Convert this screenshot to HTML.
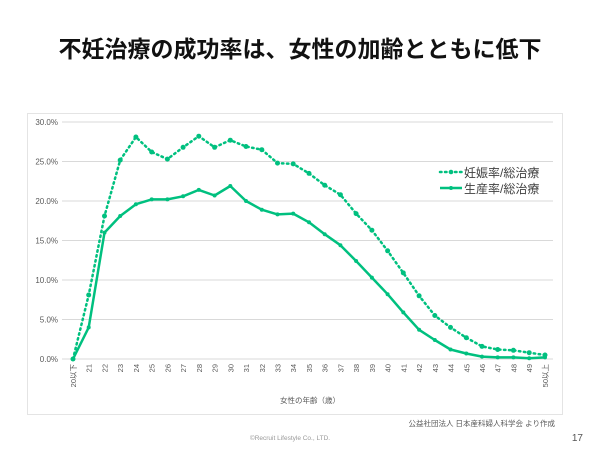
<!DOCTYPE html>
<html><head><meta charset="utf-8"><style>
body{margin:0;width:600px;height:450px;background:#fff;overflow:hidden;font-family:"Liberation Sans","Noto Sans CJK JP",sans-serif;}
</style></head><body>
<svg width="600" height="450" xmlns="http://www.w3.org/2000/svg" font-family="Liberation Sans, Noto Sans CJK JP, sans-serif">
<text x="300" y="57" text-anchor="middle" font-size="23" font-weight="bold" fill="#111" font-family="Noto Sans CJK JP, sans-serif">不妊治療の成功率は、女性の加齢とともに低下</text>
<rect x="27.5" y="113.5" width="535" height="301" fill="none" stroke="#e4e4e4"/>
<g stroke="#d9d9d9" stroke-width="1">
<line x1="62" x2="553" y1="122" y2="122"/><line x1="62" x2="553" y1="161.5" y2="161.5"/><line x1="62" x2="553" y1="201" y2="201"/><line x1="62" x2="553" y1="240.5" y2="240.5"/><line x1="62" x2="553" y1="280" y2="280"/><line x1="62" x2="553" y1="319.5" y2="319.5"/><line x1="62" x2="553" y1="359" y2="359"/>
</g>
<g font-size="8" fill="#595959" text-anchor="end">
<text x="58" y="125">30.0%</text><text x="58" y="164.5">25.0%</text><text x="58" y="204">20.0%</text><text x="58" y="243.5">15.0%</text><text x="58" y="283">10.0%</text><text x="58" y="322.5">5.0%</text><text x="58" y="362">0.0%</text>
</g>
<polyline fill="none" stroke="#00c07f" stroke-width="2.5" stroke-dasharray="1.5 3.5" stroke-linecap="round" points="73,359 88.7,295 104.5,216 120.2,160.1 135.9,137 151.7,152 167.4,159.1 183.1,147.3 198.8,136.2 214.6,147.3 230.3,140.2 246,146.5 261.8,149.7 277.5,163.1 293.2,163.9 309,173.4 324.7,185.2 340.4,194.7 356.1,213.6 371.9,230.2 387.6,250.8 403.3,272.9 419.1,295.8 434.8,315.5 450.5,327.4 466.3,337.7 482,346.4 497.7,349.5 513.4,350.3 529.2,352.7 545,355"/>
<polyline fill="none" stroke="#00c07f" stroke-width="2.5" stroke-linejoin="round" points="73,359 88.7,327.4 104.5,232.6 120.2,216 135.9,204.2 151.7,199.4 167.4,199.4 183.1,196.3 198.8,189.9 214.6,195.5 230.3,186 246,201 261.8,209.7 277.5,214.4 293.2,213.6 309,222.3 324.7,234.2 340.4,245.2 356.1,261 371.9,277.6 387.6,294.2 403.3,312.4 419.1,329.8 434.8,340 450.5,349.5 466.3,353.5 482,356.6 497.7,357.4 513.4,357.4 529.2,358.2 545,357.4"/>
<line x1="440" x2="462" y1="172" y2="172" stroke="#00c07f" stroke-width="2.5" stroke-dasharray="1.5 3.5" stroke-linecap="round"/>
<circle cx="451" cy="172" r="2.3" fill="#00c07f"/>
<line x1="440" x2="462" y1="188" y2="188" stroke="#00c07f" stroke-width="2.5"/>
<circle cx="451" cy="188" r="2" fill="#00c07f"/>
<text x="464" y="177" font-size="12" fill="#404040">妊娠率/総治療</text>
<text x="464" y="193" font-size="12" fill="#404040">生産率/総治療</text>
<text x="310" y="403" font-size="7.5" fill="#595959" text-anchor="middle">女性の年齢（歳）</text>
<text x="555" y="426" font-size="7.5" fill="#595959" text-anchor="end">公益社団法人 日本産科婦人科学会 より作成</text>
<text x="290" y="440" font-size="6.5" fill="#999" text-anchor="middle">©Recruit Lifestyle Co., LTD.</text>
<text x="583" y="441" font-size="10" fill="#555" text-anchor="end">17</text>
<g font-size="7.5" fill="#595959" text-anchor="end">
<text transform="translate(76,364) rotate(-90)">20以下</text>
<text transform="translate(91.7,364) rotate(-90)">21</text>
<text transform="translate(107.5,364) rotate(-90)">22</text>
<text transform="translate(123.2,364) rotate(-90)">23</text>
<text transform="translate(138.9,364) rotate(-90)">24</text>
<text transform="translate(154.7,364) rotate(-90)">25</text>
<text transform="translate(170.4,364) rotate(-90)">26</text>
<text transform="translate(186.1,364) rotate(-90)">27</text>
<text transform="translate(201.8,364) rotate(-90)">28</text>
<text transform="translate(217.6,364) rotate(-90)">29</text>
<text transform="translate(233.3,364) rotate(-90)">30</text>
<text transform="translate(249,364) rotate(-90)">31</text>
<text transform="translate(264.8,364) rotate(-90)">32</text>
<text transform="translate(280.5,364) rotate(-90)">33</text>
<text transform="translate(296.2,364) rotate(-90)">34</text>
<text transform="translate(312,364) rotate(-90)">35</text>
<text transform="translate(327.7,364) rotate(-90)">36</text>
<text transform="translate(343.4,364) rotate(-90)">37</text>
<text transform="translate(359.1,364) rotate(-90)">38</text>
<text transform="translate(374.9,364) rotate(-90)">39</text>
<text transform="translate(390.6,364) rotate(-90)">40</text>
<text transform="translate(406.3,364) rotate(-90)">41</text>
<text transform="translate(422.1,364) rotate(-90)">42</text>
<text transform="translate(437.8,364) rotate(-90)">43</text>
<text transform="translate(453.5,364) rotate(-90)">44</text>
<text transform="translate(469.3,364) rotate(-90)">45</text>
<text transform="translate(485,364) rotate(-90)">46</text>
<text transform="translate(500.7,364) rotate(-90)">47</text>
<text transform="translate(516.4,364) rotate(-90)">48</text>
<text transform="translate(532.2,364) rotate(-90)">49</text>
<text transform="translate(548,364) rotate(-90)">50以上</text>
</g>
<g fill="#00c07f">
<circle cx="73" cy="359" r="2.5"/><circle cx="88.7" cy="295" r="2.5"/><circle cx="104.5" cy="216" r="2.5"/><circle cx="120.2" cy="160.1" r="2.5"/><circle cx="135.9" cy="137" r="2.5"/><circle cx="151.7" cy="152" r="2.5"/><circle cx="167.4" cy="159.1" r="2.5"/><circle cx="183.1" cy="147.3" r="2.5"/><circle cx="198.8" cy="136.2" r="2.5"/><circle cx="214.6" cy="147.3" r="2.5"/><circle cx="230.3" cy="140.2" r="2.5"/><circle cx="246" cy="146.5" r="2.5"/><circle cx="261.8" cy="149.7" r="2.5"/><circle cx="277.5" cy="163.1" r="2.5"/><circle cx="293.2" cy="163.9" r="2.5"/><circle cx="309" cy="173.4" r="2.5"/><circle cx="324.7" cy="185.2" r="2.5"/><circle cx="340.4" cy="194.7" r="2.5"/><circle cx="356.1" cy="213.6" r="2.5"/><circle cx="371.9" cy="230.2" r="2.5"/><circle cx="387.6" cy="250.8" r="2.5"/><circle cx="403.3" cy="272.9" r="2.5"/><circle cx="419.1" cy="295.8" r="2.5"/><circle cx="434.8" cy="315.5" r="2.5"/><circle cx="450.5" cy="327.4" r="2.5"/><circle cx="466.3" cy="337.7" r="2.5"/><circle cx="482" cy="346.4" r="2.5"/><circle cx="497.7" cy="349.5" r="2.5"/><circle cx="513.4" cy="350.3" r="2.5"/><circle cx="529.2" cy="352.7" r="2.5"/><circle cx="545" cy="355" r="2.5"/>
<circle cx="73" cy="359" r="2"/><circle cx="88.7" cy="327.4" r="2"/><circle cx="104.5" cy="232.6" r="2"/><circle cx="120.2" cy="216" r="2"/><circle cx="135.9" cy="204.2" r="2"/><circle cx="151.7" cy="199.4" r="2"/><circle cx="167.4" cy="199.4" r="2"/><circle cx="183.1" cy="196.3" r="2"/><circle cx="198.8" cy="189.9" r="2"/><circle cx="214.6" cy="195.5" r="2"/><circle cx="230.3" cy="186" r="2"/><circle cx="246" cy="201" r="2"/><circle cx="261.8" cy="209.7" r="2"/><circle cx="277.5" cy="214.4" r="2"/><circle cx="293.2" cy="213.6" r="2"/><circle cx="309" cy="222.3" r="2"/><circle cx="324.7" cy="234.2" r="2"/><circle cx="340.4" cy="245.2" r="2"/><circle cx="356.1" cy="261" r="2"/><circle cx="371.9" cy="277.6" r="2"/><circle cx="387.6" cy="294.2" r="2"/><circle cx="403.3" cy="312.4" r="2"/><circle cx="419.1" cy="329.8" r="2"/><circle cx="434.8" cy="340" r="2"/><circle cx="450.5" cy="349.5" r="2"/><circle cx="466.3" cy="353.5" r="2"/><circle cx="482" cy="356.6" r="2"/><circle cx="497.7" cy="357.4" r="2"/><circle cx="513.4" cy="357.4" r="2"/><circle cx="529.2" cy="358.2" r="2"/><circle cx="545" cy="357.4" r="2"/>
</g>
</svg>
</body></html>
